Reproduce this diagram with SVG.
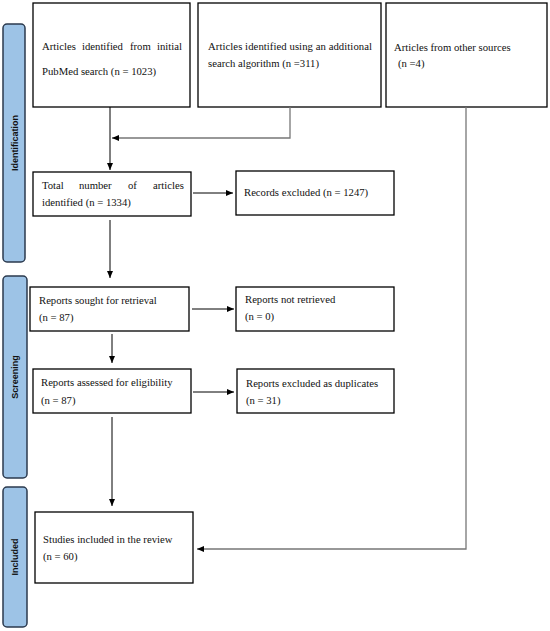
<svg xmlns="http://www.w3.org/2000/svg" width="550" height="631" viewBox="0 0 550 631">
<style>
.box{fill:#fff;stroke:#000;stroke-width:1.3}
.side{fill:#9dc3e6;stroke:#2b3a4e;stroke-width:1.5}
.t{font-family:"Liberation Serif","Times New Roman",serif;font-size:10.7px;fill:#111}
.s{font-family:"Liberation Sans",Arial,sans-serif;font-size:9px;font-weight:bold;fill:#111}
.c{fill:none;stroke:#000;stroke-width:1}
.g{fill:none;stroke:#777;stroke-width:1.3}
</style>
<defs>
<marker id="a" markerWidth="8" markerHeight="8" refX="7" refY="4" orient="auto" markerUnits="userSpaceOnUse"><path d="M0,1 L7,4 L0,7 Z" fill="#000"/></marker>
</defs>
<rect width="550" height="631" fill="#fff"/>
<g id="side-identification"><rect class="side" x="3" y="24" width="22" height="238" rx="4"/><text class="s" transform="translate(18,143) rotate(-90)" text-anchor="middle">Identification</text></g>
<g id="side-screening"><rect class="side" x="3" y="276" width="24" height="202" rx="4"/><text class="s" transform="translate(18,377) rotate(-90)" text-anchor="middle">Screening</text></g>
<g id="side-included"><rect class="side" x="3" y="487" width="24" height="140" rx="4"/><text class="s" transform="translate(18,557) rotate(-90)" text-anchor="middle">Included</text></g>

<g id="n1"><rect class="box" x="33" y="3" width="157" height="104"/><text class="t" y="50"><tspan x="42">Articles</tspan><tspan x="82">identified</tspan><tspan x="130">from</tspan><tspan x="157">initial</tspan></text><text class="t" x="42" y="75">PubMed search (n = 1023)</text></g>
<g id="n2"><rect class="box" x="198" y="3" width="183" height="104"/><text class="t" x="208" y="50" textLength="164" lengthAdjust="spacing">Articles identified using an additional</text><text class="t" x="208" y="67">search algorithm (n =311)</text></g>
<g id="n3"><rect class="box" x="386" y="3" width="161" height="104"/><text class="t" x="394" y="51">Articles from other sources</text><text class="t" x="398" y="67">(n =4)</text></g>
<g id="n4"><rect class="box" x="33" y="172" width="158" height="44"/><text class="t" y="189"><tspan x="42">Total</tspan><tspan x="79">number</tspan><tspan x="128">of</tspan><tspan x="153">articles</tspan></text><text class="t" x="42" y="206">identified (n = 1334)</text></g>
<g id="n5"><rect class="box" x="236" y="171" width="158" height="44"/><text class="t" x="244" y="196">Records excluded (n = 1247)</text></g>
<g id="n6"><rect class="box" x="30" y="287" width="159" height="44"/><text class="t" x="39" y="304">Reports sought for retrieval</text><text class="t" x="39" y="321">(n = 87)</text></g>
<g id="n7"><rect class="box" x="236" y="287" width="158" height="44"/><text class="t" x="245" y="303">Reports not retrieved</text><text class="t" x="245" y="320">(n = 0)</text></g>
<g id="n8"><rect class="box" x="33" y="369" width="158" height="44"/><text class="t" x="41" y="386">Reports assessed for eligibility</text><text class="t" x="41" y="404">(n = 87)</text></g>
<g id="n9"><rect class="box" x="237" y="369" width="157" height="44"/><text class="t" x="246" y="387">Reports excluded as duplicates</text><text class="t" x="246" y="404">(n = 31)</text></g>
<g id="n10"><rect class="box" x="35" y="512" width="158" height="71"/><text class="t" x="43" y="543">Studies included in the review</text><text class="t" x="43" y="560">(n = 60)</text></g>

<g id="connectors">
<path class="c" d="M110,107 V170" marker-end="url(#a)"/>
<path class="g" d="M290,107 V138 H112" marker-end="url(#a)"/>
<path class="c" d="M193,193 H233" marker-end="url(#a)"/>
<path class="c" d="M110,220 V278" marker-end="url(#a)"/>
<path class="c" d="M192,309 H234" marker-end="url(#a)"/>
<path class="c" d="M112,334 V363" marker-end="url(#a)"/>
<path class="c" d="M193,392 H234" marker-end="url(#a)"/>
<path class="c" d="M112,417 V506" marker-end="url(#a)"/>
<path class="g" d="M466,107 V549 H197" marker-end="url(#a)"/>
</g>
</svg>
